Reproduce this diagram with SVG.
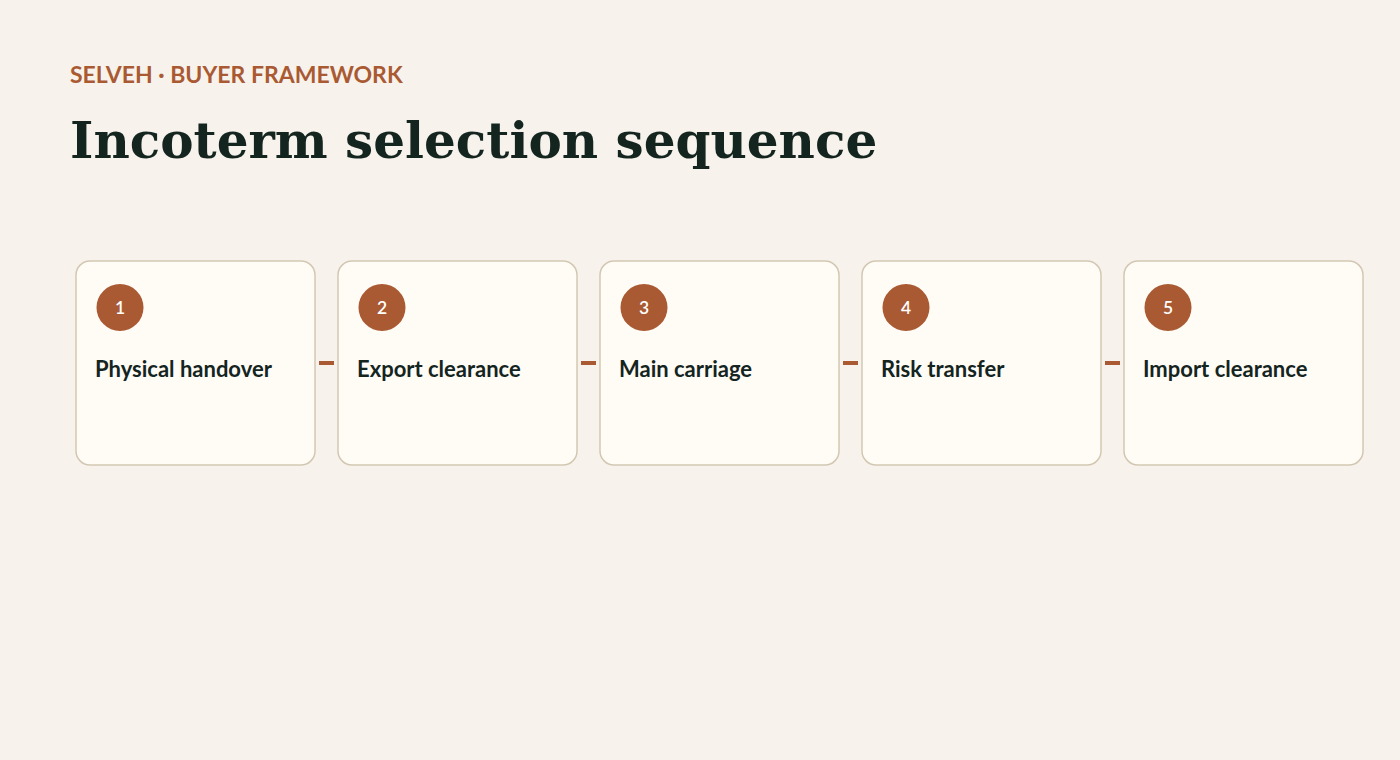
<svg xmlns="http://www.w3.org/2000/svg" width="1400" height="760" viewBox="0 0 1400 760">
<style>
.card{fill:#fffcf6;stroke:#d3c7b3;stroke-width:1.5}
.badge{fill:#aa5a33}
.num{font-family:Lato,"Noto Sans",sans-serif;font-weight:600;font-size:17.5px;fill:#ffffff;text-anchor:middle}
.lbl{font-family:Lato,"Noto Sans",sans-serif;font-weight:700;font-size:22px;fill:#14241f}
.conn{stroke:#aa5a33;stroke-width:4}
</style>
<rect width="1400" height="760" fill="#f7f3ec"/>
<text x="70" y="83" font-family="Lato, 'Noto Sans', sans-serif" font-weight="700" font-size="23" fill="#aa5a33">SELVEH · BUYER FRAMEWORK</text>
<text x="70" y="158" font-family="'DejaVu Serif', serif" font-weight="700" font-size="50" fill="#14241f">Incoterm selection sequence</text>
<g id="connectors">
<line class="conn" x1="319" y1="363" x2="334" y2="363"/>
<line class="conn" x1="581" y1="363" x2="596" y2="363"/>
<line class="conn" x1="843" y1="363" x2="858" y2="363"/>
<line class="conn" x1="1105" y1="363" x2="1120" y2="363"/>
</g>
<g id="node1"><rect class="card" x="76" y="261" width="239" height="204" rx="14"/><circle class="badge" cx="120" cy="307.5" r="23.5"/><text class="num" x="120" y="313.5">1</text><text class="lbl" x="95" y="377">Physical handover</text></g>
<g id="node2"><rect class="card" x="338" y="261" width="239" height="204" rx="14"/><circle class="badge" cx="382" cy="307.5" r="23.5"/><text class="num" x="382" y="313.5">2</text><text class="lbl" x="357" y="377">Export clearance</text></g>
<g id="node3"><rect class="card" x="600" y="261" width="239" height="204" rx="14"/><circle class="badge" cx="644" cy="307.5" r="23.5"/><text class="num" x="644" y="313.5">3</text><text class="lbl" x="619" y="377">Main carriage</text></g>
<g id="node4"><rect class="card" x="862" y="261" width="239" height="204" rx="14"/><circle class="badge" cx="906" cy="307.5" r="23.5"/><text class="num" x="906" y="313.5">4</text><text class="lbl" x="881" y="377">Risk transfer</text></g>
<g id="node5"><rect class="card" x="1124" y="261" width="239" height="204" rx="14"/><circle class="badge" cx="1168" cy="307.5" r="23.5"/><text class="num" x="1168" y="313.5">5</text><text class="lbl" x="1143" y="377">Import clearance</text></g>
</svg>
